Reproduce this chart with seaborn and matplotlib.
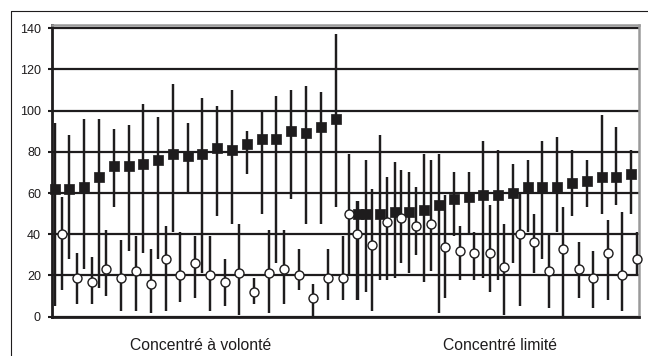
import numpy as np
import pandas as pd
import matplotlib
matplotlib.use("Agg")
import matplotlib.pyplot as plt
from matplotlib.lines import Line2D
import seaborn as sns

# ---------------- data ----------------
# black squares: position on the axis, mean, lower and upper end of the bar
sq_pos = [0, 1, 2, 3, 4, 5, 6, 7, 8, 9, 10, 11, 12, 13, 14, 15, 16, 17, 18, 19,
          20.5, 21.05, 22, 23, 24, 25, 26, 27, 28, 29, 30, 31, 32, 33, 34, 35, 36, 37, 38, 39]
sq_val = [62, 62, 63, 68, 73, 73, 74, 76, 79, 78, 79, 82, 81, 84, 86, 86, 90, 89, 92, 96,
          50, 50, 50, 51, 51, 52, 54, 57, 58, 59, 59, 60, 63, 63, 63, 65, 66, 68, 68, 69]
sq_lo = [5, 28, 23, 14, 53, 32, 31, 28, 41, 60, 21, 49, 45, 69, 50, 26, 57, 45, 45, 53,
         8, 12, 18, 19, 21, 17, 2, 39, 40, 19, 18, 26, 41, 28, 41, 49, 53, 50, 54, 50]
sq_hi = [94, 88, 96, 96, 91, 93, 103, 97, 113, 94, 106, 102, 110, 90, 100, 107, 110, 112, 109, 137,
         56, 76, 88, 75, 70, 79, 79, 70, 70, 85, 81, 74, 76, 85, 87, 81, 76, 98, 92, 81]

# white circles
ci_pos = [0.5, 1.5, 2.5, 3.5, 4.5, 5.5, 6.5, 7.5, 8.5, 9.5, 10.5, 11.5, 12.5, 13.5, 14.5,
          15.5, 16.5, 17.5, 18.5, 19.5,
          19.9, 20.45, 21.5, 22.45, 23.45, 24.45, 25.45, 26.4, 27.45, 28.4, 29.45, 30.4,
          31.45, 32.4, 33.45, 34.4, 35.45, 36.4, 37.45, 38.35, 39.4]
ci_val = [40, 19, 17, 23, 19, 22, 16, 28, 20, 26, 20, 17, 21, 12, 21, 23, 20, 9, 19, 19,
          50, 40, 35, 46, 48, 44, 45, 34, 32, 31, 31, 24, 40, 36, 22, 33, 23, 19, 31, 20, 28]
ci_lo = [13, 6, 6, 10, 3, 3, 2, 3, 7, 9, 3, 5, 1, 6, 2, 6, 13, 0, 8, 8,
         20, 8, 3, 18, 26, 30, 22, 9, 18, 18, 12, 1, 5, 21, 4, 0, 9, 4, 8, 3, 20]
ci_hi = [58, 31, 29, 42, 37, 39, 33, 44, 41, 39, 39, 28, 45, 19, 42, 42, 33, 16, 33, 39,
         79, 56, 62, 68, 71, 63, 76, 59, 44, 41, 54, 45, 60, 50, 40, 53, 36, 32, 47, 51, 41]

group_labels = ["Concentré à volonté", "Concentré limité"]
y_ticks = [0, 20, 40, 60, 80, 100, 120, 140]

# ---------------- style ----------------
sns.set_theme(style="white")
plt.rcParams["font.family"] = ["Liberation Sans", "DejaVu Sans"]

ink = "#1e1c1d"
W, H = 648, 356
fig = plt.figure(figsize=(W / 100, H / 100), dpi=100)
fig.patch.set_facecolor("white")

left, right, top, bottom = 52, 639, 25, 316.7
ax = fig.add_axes([left / W, 1 - bottom / H, (right - left) / W, (bottom - top) / H])
ax.set_facecolor("white")

sq = pd.DataFrame({"pos": sq_pos, "val": sq_val, "lo": sq_lo, "hi": sq_hi})
ci = pd.DataFrame({"pos": ci_pos, "val": ci_val, "lo": ci_lo, "hi": ci_hi})

# error bars
ax.vlines(sq["pos"], sq["lo"], sq["hi"], color=ink, lw=1.75, zorder=2)
ax.vlines(ci["pos"], ci["lo"], ci["hi"], color=ink, lw=1.75, zorder=2)

# markers
sns.scatterplot(data=sq, x="pos", y="val", marker="s", s=42, color=ink,
                edgecolor=ink, linewidth=0.5, ax=ax, zorder=4, clip_on=False)
sns.scatterplot(data=ci, x="pos", y="val", marker="o", s=42, color="white",
                edgecolor=ink, linewidth=1.0, ax=ax, zorder=5, clip_on=False)

# axes
ax.set_xlim(-0.18, 39.53)
ax.set_ylim(0, 141.5)
ax.set_yticks(y_ticks)
ax.set_yticklabels([str(t) for t in y_ticks], fontsize=9, color=ink)
ax.yaxis.grid(True, color=ink, lw=1.6)
ax.xaxis.grid(False)
ax.set_axisbelow(True)

ax.set_xticks([9.85, 30.1])
ax.set_xticklabels(group_labels, fontsize=11.3, color=ink)
ax.tick_params(axis="x", length=0, pad=15)
ax.tick_params(axis="y", length=3, width=1.5, color=ink, pad=5, left=True)
ax.set_xlabel("")
ax.set_ylabel("")

for s in ["left", "bottom"]:
    ax.spines[s].set_color(ink)
    ax.spines[s].set_linewidth(2.0)
for s in ["top", "right"]:
    ax.spines[s].set_color("#9a9a9a")
    ax.spines[s].set_linewidth(1.8)

# outer frame of the figure (left and top edges visible)
fx = 10.5 / W
fy = 1 - 10.5 / H
fig.add_artist(Line2D([fx, fx], [fy, 0], transform=fig.transFigure, color=ink, lw=0.8))
fig.add_artist(Line2D([fx, 1], [fy, fy], transform=fig.transFigure, color=ink, lw=0.8))

fig.savefig("out.png", dpi=100, facecolor="white")
